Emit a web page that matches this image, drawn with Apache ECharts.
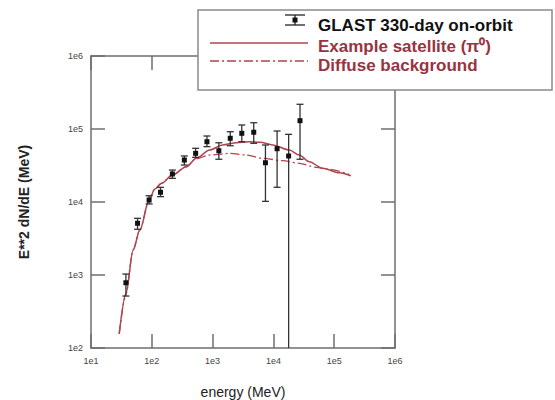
<!DOCTYPE html>
<html>
<head>
<meta charset="utf-8">
<script src="https://cdn.jsdelivr.net/npm/echarts@6/dist/echarts.min.js"></script>
<style>
html,body{margin:0;padding:0;background:#fff;}
#chart{width:555px;height:400px;}
</style>
</head>
<body>
<div id="chart"></div>
<script>
// ---- data ----
var pointEnergy = [37.5, 58.3, 90.3, 139, 218, 343, 526, 807, 1267, 1950, 3020, 4750, 7400, 11500, 17800, 27400];
var pointFlux   = [785, 5110, 10640, 13590, 24200, 37600, 46400, 67000, 50400, 74600, 87300, 90200, 34500, 53700, 42700, 130000];
var pointLow    = [515, 4230, 9400, 11830, 21100, 32100, 40900, 57300, 38500, 59000, 67000, 63700, 10200, 15900, 100, 38500];
var pointHigh   = [1030, 5980, 12190, 15890, 27400, 42700, 54400, 80200, 64800, 91800, 113500, 121900, 60400, 93900, 84500, 218000];

var satEnergy = [29.1, 37.5, 49.3, 63.5, 90.3, 112, 144, 218, 371, 541, 893, 1459, 2450, 4000, 6000, 9750, 18300, 26700, 38900, 64300, 120800, 188000];
var satFlux   = [156, 550, 2200, 4130, 10640, 15070, 18030, 23400, 30500, 39700, 51500, 60400, 65000, 67000, 66000, 60400, 51500, 44000, 35600, 29000, 25200, 22900];

var bgEnergy = [29.1, 37.5, 49.3, 63.5, 90.3, 112, 144, 218, 371, 526, 893, 1900, 3560, 6680, 14200, 26700, 50100, 82800, 176000];
var bgFlux   = [156, 550, 2200, 4130, 10640, 15070, 18030, 23400, 30500, 38800, 44000, 46400, 44000, 39700, 36800, 33900, 29900, 28000, 23900];

var xTickLabels = ['1e1', '1e2', '1e3', '1e4', '1e5', '1e6'];
var yTickLabels = ['1e2', '1e3', '1e4', '1e5', '1e6'];

var legendNames = ['GLAST 330-day on-orbit', 'Example satellite (\u03c0\u2070)', 'Diffuse background'];

// ---- build chart ----
var lineColor = '#b0444f';
var textRed = '#98343f';
var frameColor = '#6e6e6e';

function zip(a, b) { return a.map(function (v, i) { return [v, b[i]]; }); }
var pointsData = pointEnergy.map(function (e, i) { return [e, pointFlux[i], pointLow[i], pointHigh[i]]; });

function fmtLog(labels, base) {
  return function (v) {
    var k = Math.round(Math.log10(v)) - base;
    return labels[k] !== undefined ? labels[k] : '';
  };
}

var axisCommon = {
  type: 'log', logBase: 10,
  axisLine: { show: true, lineStyle: { color: frameColor, width: 1.5 } },
  axisTick: { show: true, inside: true, length: 14, lineStyle: { color: frameColor, width: 1.5 } },
  splitLine: { show: false },
  minorTick: { show: false }
};

var chart = echarts.init(document.getElementById('chart'), null, { renderer: 'svg' });
var option = {
  animation: false,
  backgroundColor: '#fff',
  grid: { left: 91, right: 160, top: 56, bottom: 52, containLabel: false, outerBoundsMode: 'none' },
  xAxis: [
    Object.assign({}, axisCommon, {
      position: 'bottom', min: 10, max: 1e6,
      axisLabel: { formatter: fmtLog(xTickLabels, 1), fontSize: 9, color: '#444', margin: 8, fontFamily: 'Liberation Sans, Arial, sans-serif' },
      name: 'energy (MeV)', nameLocation: 'middle', nameGap: 37,
      nameTextStyle: { fontSize: 14, color: '#222', fontFamily: 'Liberation Sans, Arial, sans-serif' }
    }),
    Object.assign({}, axisCommon, { position: 'top', min: 10, max: 1e6, axisLabel: { show: false } })
  ],
  yAxis: [
    Object.assign({}, axisCommon, {
      position: 'left', min: 100, max: 1e6,
      axisLabel: { formatter: fmtLog(yTickLabels, 2), fontSize: 9, color: '#444', margin: 8, fontFamily: 'Liberation Sans, Arial, sans-serif' },
      name: 'E**2 dN/dE (MeV)', nameLocation: 'middle', nameGap: 60, nameRotate: 90,
      nameTextStyle: { fontSize: 14, fontWeight: 'bold', color: '#222', fontFamily: 'Liberation Sans, Arial, sans-serif' }
    }),
    Object.assign({}, axisCommon, { position: 'right', min: 100, max: 1e6, axisLabel: { show: false } })
  ],
  series: [
    {
      name: legendNames[2], type: 'line', data: zip(bgEnergy, bgFlux),
      showSymbol: false, smooth: 0.3, smoothMonotone: 'x',
      lineStyle: { color: lineColor, width: 1.3, type: [9, 3, 2, 3] }, z: 2
    },
    {
      name: legendNames[1], type: 'line', data: zip(satEnergy, satFlux),
      showSymbol: false, smooth: 0.3, smoothMonotone: 'x',
      lineStyle: { color: lineColor, width: 1.5 }, z: 3
    },
    {
      name: legendNames[0], type: 'custom', data: pointsData, clip: false, z: 5,
      renderItem: function (params, api) {
        var x = api.value(0), y = api.value(1), lo = api.value(2), hi = api.value(3);
        var p = api.coord([x, y]);
        var pl = api.coord([x, lo]);
        var ph = api.coord([x, hi]);
        var cap = 3.5;
        var st = { stroke: '#333', lineWidth: 1.3 };
        var children = [
          { type: 'line', shape: { x1: p[0], y1: pl[1], x2: p[0], y2: ph[1] }, style: st },
          { type: 'line', shape: { x1: p[0] - cap, y1: ph[1], x2: p[0] + cap, y2: ph[1] }, style: st },
          { type: 'rect', shape: { x: p[0] - 2.5, y: p[1] - 2.5, width: 5, height: 5 }, style: { fill: '#111' } }
        ];
        if (lo > 100) {
          children.push({ type: 'line', shape: { x1: p[0] - cap, y1: pl[1], x2: p[0] + cap, y2: pl[1] }, style: st });
        }
        return { type: 'group', children: children };
      }
    }
  ],
  graphic: [
    { type: 'rect', z: 100, shape: { x: 198, y: 10, width: 354, height: 80 }, style: { fill: '#fff', stroke: '#8a8a8a', lineWidth: 1.5 } },
    // error-bar icon
    { type: 'line', z: 101, shape: { x1: 295, y1: 15, x2: 295, y2: 25 }, style: { stroke: '#222', lineWidth: 1.3 } },
    { type: 'line', z: 101, shape: { x1: 285, y1: 15, x2: 305, y2: 15 }, style: { stroke: '#222', lineWidth: 1.3 } },
    { type: 'line', z: 101, shape: { x1: 285, y1: 25, x2: 305, y2: 25 }, style: { stroke: '#222', lineWidth: 1.3 } },
    { type: 'rect', z: 101, shape: { x: 292.5, y: 17.5, width: 5, height: 5 }, style: { fill: '#111' } },
    // line samples
    { type: 'line', z: 101, shape: { x1: 210, y1: 43, x2: 308, y2: 43 }, style: { stroke: lineColor, lineWidth: 1.6 } },
    { type: 'line', z: 101, shape: { x1: 210, y1: 61, x2: 308, y2: 61 }, style: { stroke: lineColor, lineWidth: 1.6, lineDash: [9, 3, 2, 3] } },
    // texts
    { type: 'text', z: 101, x: 318, y: 25, style: { text: legendNames[0], fill: '#111', font: 'bold 17px "Liberation Sans", Arial, sans-serif', verticalAlign: 'middle' } },
    { type: 'text', z: 101, x: 318, y: 46.5, style: { text: legendNames[1], fill: textRed, font: 'bold 17px "Liberation Sans", Arial, sans-serif', verticalAlign: 'middle' } },
    { type: 'text', z: 101, x: 318, y: 65, style: { text: legendNames[2], fill: textRed, font: 'bold 17px "Liberation Sans", Arial, sans-serif', verticalAlign: 'middle' } }
  ]
};
chart.setOption(option);
</script>
</body>
</html>
